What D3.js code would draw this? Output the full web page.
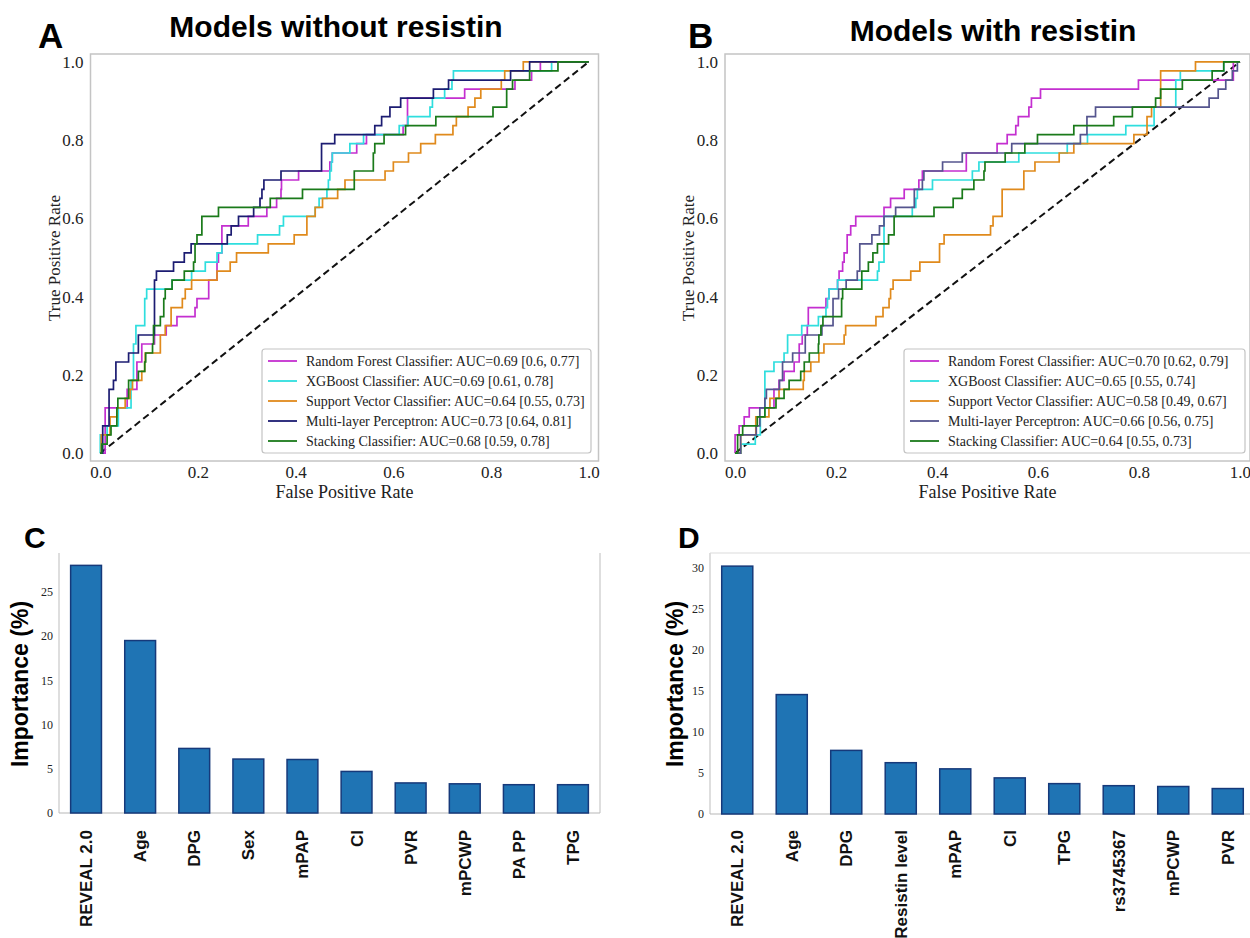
<!DOCTYPE html>
<html>
<head>
<meta charset="utf-8">
<script src="https://cdn.jsdelivr.net/npm/d3@7"></script>
<style>
  body { margin: 0; background: #fff; }
  .serif { font-family: "Liberation Serif", "Times New Roman", serif; }
  .sans { font-family: "Liberation Sans", Arial, sans-serif; font-weight: bold; }
</style>
</head>
<body>
<script>
// ---- ROC data: [fpr where the curve jumps, tpr after the jump] ----
var modelNames = ["Random Forest Classifier", "XGBoost Classifier", "Support Vector Classifier",
                  "Multi-layer Perceptron", "Stacking Classifier"];
var aucA = ["AUC=0.69 [0.6, 0.77]", "AUC=0.69 [0.61, 0.78]", "AUC=0.64 [0.55, 0.73]",
            "AUC=0.73 [0.64, 0.81]", "AUC=0.68 [0.59, 0.78]"];
var aucB = ["AUC=0.70 [0.62, 0.79]", "AUC=0.65 [0.55, 0.74]", "AUC=0.58 [0.49, 0.67]",
            "AUC=0.66 [0.56, 0.75]", "AUC=0.64 [0.55, 0.73]"];
var colorsA = ["#c42fd0", "#2fdede", "#e08a1c", "#1c1c72", "#1a7a1a"];
var colorsB = ["#c42fd0", "#2fdede", "#e08a1c", "#55558e", "#1a7a1a"];

var rfA = [[0,0],[0.01,0.116],[0.055,0.163],[0.075,0.233],[0.085,0.279],[0.111,0.302],[0.135,0.326],
  [0.157,0.349],[0.194,0.372],[0.198,0.395],[0.222,0.442],[0.239,0.488],[0.242,0.512],[0.249,0.581],
  [0.303,0.605],[0.341,0.628],[0.361,0.651],[0.37,0.674],[0.371,0.698],[0.406,0.721],[0.47,0.744],
  [0.475,0.767],[0.525,0.791],[0.545,0.814],[0.62,0.837],[0.629,0.907],[0.746,0.93],[0.849,0.953],
  [0.883,0.977],[0.901,1],[1,1]];
var xgbA = [[0,0],[0,0.047],[0.014,0.07],[0.037,0.116],[0.063,0.186],[0.068,0.279],[0.073,0.326],
  [0.091,0.395],[0.095,0.419],[0.147,0.442],[0.187,0.465],[0.215,0.488],[0.239,0.512],[0.249,0.535],
  [0.322,0.558],[0.367,0.581],[0.375,0.605],[0.44,0.628],[0.448,0.651],[0.464,0.674],[0.467,0.698],
  [0.47,0.721],[0.473,0.744],[0.475,0.767],[0.511,0.791],[0.539,0.814],[0.612,0.837],[0.63,0.86],
  [0.675,0.884],[0.68,0.907],[0.705,0.93],[0.72,0.953],[0.723,0.977],[0.924,1],[1,1]];
var svcA = [[0,0],[0.002,0.047],[0.02,0.093],[0.034,0.116],[0.051,0.14],[0.061,0.163],[0.066,0.186],
  [0.085,0.209],[0.091,0.233],[0.092,0.256],[0.123,0.302],[0.133,0.326],[0.145,0.372],[0.168,0.395],
  [0.174,0.419],[0.187,0.442],[0.239,0.465],[0.266,0.488],[0.279,0.512],[0.344,0.535],[0.397,0.558],
  [0.423,0.605],[0.44,0.628],[0.455,0.651],[0.486,0.674],[0.501,0.698],[0.583,0.721],[0.6,0.744],
  [0.631,0.767],[0.656,0.791],[0.686,0.814],[0.722,0.837],[0.729,0.86],[0.753,0.884],[0.767,0.907],
  [0.779,0.93],[0.821,0.953],[0.828,0.977],[0.866,1],[1,1]];
var mlpA = [[0,0],[0.005,0.07],[0.018,0.163],[0.027,0.186],[0.032,0.233],[0.058,0.256],[0.078,0.302],
  [0.111,0.442],[0.115,0.465],[0.15,0.488],[0.172,0.512],[0.186,0.535],[0.26,0.558],[0.268,0.581],
  [0.283,0.605],[0.314,0.628],[0.327,0.651],[0.331,0.674],[0.335,0.698],[0.37,0.721],[0.453,0.791],
  [0.48,0.814],[0.562,0.837],[0.576,0.86],[0.593,0.884],[0.615,0.907],[0.682,0.93],[0.713,0.953],
  [0.84,0.977],[0.879,1],[1,1]];
var stackA = [[0,0],[0.003,0.023],[0.014,0.047],[0.022,0.07],[0.034,0.116],[0.036,0.14],[0.058,0.186],
  [0.078,0.209],[0.091,0.233],[0.093,0.256],[0.107,0.279],[0.109,0.326],[0.123,0.349],[0.13,0.395],
  [0.133,0.419],[0.147,0.442],[0.172,0.465],[0.191,0.488],[0.194,0.535],[0.198,0.558],[0.208,0.605],
  [0.242,0.628],[0.348,0.651],[0.414,0.674],[0.52,0.721],[0.559,0.767],[0.562,0.791],[0.581,0.814],
  [0.625,0.837],[0.687,0.86],[0.804,0.884],[0.832,0.93],[0.844,0.953],[0.879,0.977],[0.937,1],[1,1]];

var rfB = [[0,0],[0,0.047],[0.008,0.07],[0.018,0.093],[0.028,0.116],[0.077,0.163],[0.087,0.186],
  [0.097,0.209],[0.117,0.233],[0.127,0.279],[0.133,0.302],[0.143,0.326],[0.145,0.372],[0.18,0.395],
  [0.186,0.419],[0.203,0.442],[0.206,0.465],[0.213,0.488],[0.216,0.512],[0.222,0.558],[0.229,0.581],
  [0.239,0.605],[0.295,0.628],[0.308,0.651],[0.335,0.674],[0.364,0.698],[0.371,0.721],[0.458,0.767],
  [0.519,0.791],[0.539,0.814],[0.556,0.837],[0.561,0.86],[0.582,0.884],[0.587,0.907],[0.605,0.93],
  [0.799,0.953],[0.987,1],[1,1]];
var xgbB = [[0,0],[0.012,0.023],[0.04,0.047],[0.05,0.093],[0.059,0.209],[0.077,0.233],[0.097,0.256],
  [0.104,0.302],[0.132,0.326],[0.165,0.349],[0.18,0.372],[0.183,0.395],[0.186,0.419],[0.203,0.442],
  [0.282,0.465],[0.285,0.488],[0.295,0.605],[0.351,0.628],[0.358,0.651],[0.361,0.674],[0.391,0.698],
  [0.47,0.721],[0.483,0.744],[0.562,0.767],[0.658,0.791],[0.698,0.814],[0.774,0.837],[0.83,0.884],
  [0.873,0.953],[0.882,0.977],[0.968,1],[1,1]];
var svcB = [[0,0],[0.011,0.047],[0.041,0.093],[0.067,0.116],[0.069,0.14],[0.087,0.163],[0.135,0.186],
  [0.137,0.209],[0.15,0.233],[0.166,0.256],[0.176,0.279],[0.216,0.302],[0.219,0.326],[0.279,0.349],
  [0.293,0.372],[0.305,0.395],[0.308,0.419],[0.313,0.442],[0.348,0.465],[0.366,0.488],[0.405,0.535],
  [0.414,0.558],[0.506,0.581],[0.511,0.605],[0.529,0.674],[0.572,0.721],[0.594,0.744],[0.642,0.767],
  [0.671,0.791],[0.79,0.814],[0.816,0.86],[0.825,0.884],[0.843,0.977],[0.912,1],[1,1]];
var mlpB = [[0,0],[0.011,0.047],[0.042,0.07],[0.049,0.116],[0.059,0.14],[0.062,0.163],[0.088,0.186],
  [0.094,0.233],[0.114,0.256],[0.139,0.302],[0.172,0.326],[0.194,0.395],[0.205,0.419],[0.22,0.442],
  [0.242,0.465],[0.247,0.535],[0.271,0.558],[0.286,0.581],[0.295,0.605],[0.318,0.628],[0.355,0.674],
  [0.371,0.698],[0.374,0.721],[0.411,0.744],[0.45,0.767],[0.548,0.791],[0.684,0.814],[0.697,0.86],
  [0.714,0.884],[0.939,0.907],[0.957,0.93],[0.972,0.953],[0.985,0.977],[0.995,1],[1,1]];
var stackB = [[0,0],[0.005,0.047],[0.015,0.07],[0.044,0.093],[0.059,0.116],[0.081,0.14],[0.097,0.163],
  [0.107,0.186],[0.13,0.209],[0.137,0.233],[0.147,0.256],[0.165,0.279],[0.166,0.302],[0.17,0.326],
  [0.174,0.349],[0.211,0.395],[0.213,0.419],[0.251,0.465],[0.264,0.488],[0.273,0.512],[0.282,0.535],
  [0.304,0.558],[0.315,0.605],[0.394,0.628],[0.432,0.651],[0.45,0.674],[0.473,0.698],[0.493,0.721],
  [0.495,0.744],[0.535,0.767],[0.574,0.791],[0.599,0.814],[0.671,0.837],[0.75,0.86],[0.787,0.884],
  [0.833,0.907],[0.843,0.93],[0.886,0.953],[0.945,0.977],[0.968,1],[1,1]];

var rocTicks = [0, 0.2, 0.4, 0.6, 0.8, 1.0];

// ---- feature importance ----
var featuresC = ["REVEAL 2.0", "Age", "DPG", "Sex", "mPAP", "CI", "PVR", "mPCWP", "PA PP", "TPG"];
var importanceC = [28.0, 19.5, 7.3, 6.1, 6.05, 4.7, 3.4, 3.3, 3.2, 3.2];
var ticksC = [0, 5, 10, 15, 20, 25];
var featuresD = ["REVEAL 2.0", "Age", "DPG", "Resistin level", "mPAP", "CI", "TPG", "rs3745367", "mPCWP", "PVR"];
var importanceD = [30.2, 14.55, 7.75, 6.25, 5.5, 4.4, 3.7, 3.45, 3.35, 3.1];
var ticksD = [0, 5, 10, 15, 20, 25, 30];

var width = 1250, height = 938;

var svg = d3.select("body").append("svg")
    .attr("width", width)
    .attr("height", height)
    .style("background", "#fff");

function rocPanel(opt) {
  var x = d3.scaleLinear().domain([-0.02, 1.02]).range([opt.left, opt.right]);
  var y = d3.scaleLinear().domain([-0.02, 1.02]).range([461, 54]);
  var g = svg.append("g");

  g.append("rect")
      .attr("x", opt.left).attr("y", 54)
      .attr("width", opt.right - opt.left).attr("height", 407)
      .attr("fill", "none").attr("stroke", "#c4c4c4").attr("stroke-width", 1.5);

  var xAxis = g.append("g")
      .attr("transform", "translate(0,461)")
      .call(d3.axisBottom(x).tickValues(rocTicks).tickSize(0).tickPadding(5).tickFormat(d3.format(".1f")));
  var yAxis = g.append("g")
      .attr("transform", "translate(" + opt.left + ",0)")
      .call(d3.axisLeft(y).tickValues(rocTicks).tickSize(0).tickPadding(7).tickFormat(d3.format(".1f")));
  [xAxis, yAxis].forEach(function(a) {
    a.select(".domain").remove();
    a.selectAll("text").attr("class", "serif").style("font-size", "17px").attr("fill", "#222");
  });

  g.append("text").attr("class", "serif")
      .attr("x", (opt.left + opt.right) / 2).attr("y", 498)
      .attr("text-anchor", "middle").style("font-size", "18px").attr("fill", "#222")
      .text("False Positive Rate");
  g.append("text").attr("class", "serif")
      .attr("transform", "translate(" + opt.ylab + ",258) rotate(-90)")
      .attr("dy", "0.35em")
      .attr("text-anchor", "middle").style("font-size", "17px").attr("fill", "#222")
      .text("True Positive Rate");

  var line = d3.line()
      .x(function(d) { return x(d[0]); })
      .y(function(d) { return y(d[1]); })
      .curve(d3.curveStepAfter);

  g.append("path")
      .datum([[0, 0], [1, 1]])
      .attr("d", d3.line().x(function(d) { return x(d[0]); }).y(function(d) { return y(d[1]); }))
      .attr("fill", "none").attr("stroke", "#111").attr("stroke-width", 2)
      .attr("stroke-dasharray", "7,4");

  g.selectAll(".roc")
      .data(opt.curves)
    .enter().append("path")
      .attr("class", "roc")
      .attr("d", line)
      .attr("fill", "none")
      .attr("stroke", function(d, i) { return opt.colors[i]; })
      .attr("stroke-width", 1.7);

  // legend
  var lg = g.append("g");
  lg.append("rect")
      .attr("x", opt.legX).attr("y", 349)
      .attr("width", opt.legW).attr("height", 104)
      .attr("rx", 3)
      .attr("fill", "#fff").attr("stroke", "#c4c4c4").attr("stroke-width", 1.2);
  var item = lg.selectAll(".item")
      .data(modelNames)
    .enter().append("g")
      .attr("transform", function(d, i) { return "translate(" + (opt.legX + 6) + "," + (361 + i * 20) + ")"; });
  item.append("line")
      .attr("x1", 0).attr("x2", 29)
      .attr("stroke", function(d, i) { return opt.colors[i]; })
      .attr("stroke-width", 1.8);
  item.append("text").attr("class", "serif")
      .attr("x", 38).attr("dy", "0.35em")
      .style("font-size", "14px").attr("fill", "#222")
      .text(function(d, i) { return d + ": " + opt.auc[i]; });

  svg.append("text").attr("class", "sans")
      .attr("x", opt.titleX).attr("y", opt.titleY)
      .attr("text-anchor", "middle").style("font-size", "30px")
      .text(opt.title);
  svg.append("text").attr("class", "sans")
      .attr("x", opt.letterX).attr("y", 48)
      .style("font-size", "35px")
      .text(opt.letter);
}

rocPanel({
  left: 90.5, right: 598.5, ylab: 54, legX: 262, legW: 329,
  curves: [rfA, xgbA, svcA, mlpA, stackA], colors: colorsA, auc: aucA,
  title: "Models without resistin", titleX: 336, titleY: 37, letter: "A", letterX: 38
});
rocPanel({
  left: 725, right: 1250, ylab: 688, legX: 904, legW: 341,
  curves: [rfB, xgbB, svcB, mlpB, stackB], colors: colorsB, auc: aucB,
  title: "Models with resistin", titleX: 993, titleY: 41, letter: "B", letterX: 688
});

function barPanel(opt) {
  var x = d3.scaleBand().domain(opt.features).range([opt.left, opt.right])
      .paddingInner(0.43).paddingOuter(0.215);
  var y = d3.scaleLinear().domain([0, opt.ymax]).range([opt.bottom, 553]);
  var g = svg.append("g");

  g.append("line").attr("x1", opt.left).attr("x2", opt.left).attr("y1", 553).attr("y2", opt.bottom)
      .attr("stroke", "#c8c8c8").attr("stroke-width", 1.2);
  if (opt.rightSpine) {
    g.append("line").attr("x1", opt.right).attr("x2", opt.right).attr("y1", 553).attr("y2", opt.bottom)
        .attr("stroke", "#c8c8c8").attr("stroke-width", 1.2);
  }
  if (opt.topSpine) {
    g.append("line").attr("x1", opt.left).attr("x2", opt.right).attr("y1", 553).attr("y2", 553)
        .attr("stroke", "#dcdcdc").attr("stroke-width", 1.2);
  }
  g.append("line").attr("x1", opt.left).attr("x2", opt.right).attr("y1", opt.bottom).attr("y2", opt.bottom)
      .attr("stroke", "#b8b8b8").attr("stroke-width", 1.2);

  g.selectAll(".bar")
      .data(opt.values)
    .enter().append("rect")
      .attr("class", "bar")
      .attr("x", function(d, i) { return x(opt.features[i]); })
      .attr("width", x.bandwidth())
      .attr("y", function(d) { return y(d); })
      .attr("height", function(d) { return opt.bottom - y(d); })
      .attr("fill", "#1f74b4")
      .attr("stroke", "#16397a")
      .attr("stroke-width", 1.5);

  var yAxis = g.append("g")
      .attr("transform", "translate(" + opt.left + ",0)")
      .call(d3.axisLeft(y).tickValues(opt.ticks).tickSize(0).tickPadding(6).tickFormat(d3.format("d")));
  yAxis.select(".domain").remove();
  yAxis.selectAll("text").attr("class", "serif").style("font-size", "12px").attr("fill", "#222");

  var xAxis = g.append("g")
      .attr("transform", "translate(0," + opt.bottom + ")")
      .call(d3.axisBottom(x).tickSize(0));
  xAxis.select(".domain").remove();
  xAxis.selectAll("text")
      .attr("class", "sans")
      .attr("transform", "rotate(-90)")
      .attr("text-anchor", "end")
      .attr("x", -(830 - opt.bottom))
      .attr("y", 0)
      .attr("dy", "0.35em")
      .style("font-size", "17px")
      .attr("fill", "#111");

  g.append("text").attr("class", "sans")
      .attr("transform", "translate(" + opt.ylab + ",684) rotate(-90)")
      .attr("dy", "0.35em")
      .attr("text-anchor", "middle").style("font-size", "23px")
      .text("Importance (%)");
  svg.append("text").attr("class", "sans")
      .attr("x", opt.letterX).attr("y", 548)
      .style("font-size", "30px")
      .text(opt.letter);
}

barPanel({
  features: featuresC, values: importanceC, ticks: ticksC, ymax: 29.4,
  left: 59, right: 600, bottom: 813, ylab: 20, rightSpine: true, topSpine: false,
  letter: "C", letterX: 24
});
barPanel({
  features: featuresD, values: importanceD, ticks: ticksD, ymax: 31.8,
  left: 710, right: 1255, bottom: 814, ylab: 675, rightSpine: false, topSpine: true,
  letter: "D", letterX: 678
});
</script>
</body>
</html>
